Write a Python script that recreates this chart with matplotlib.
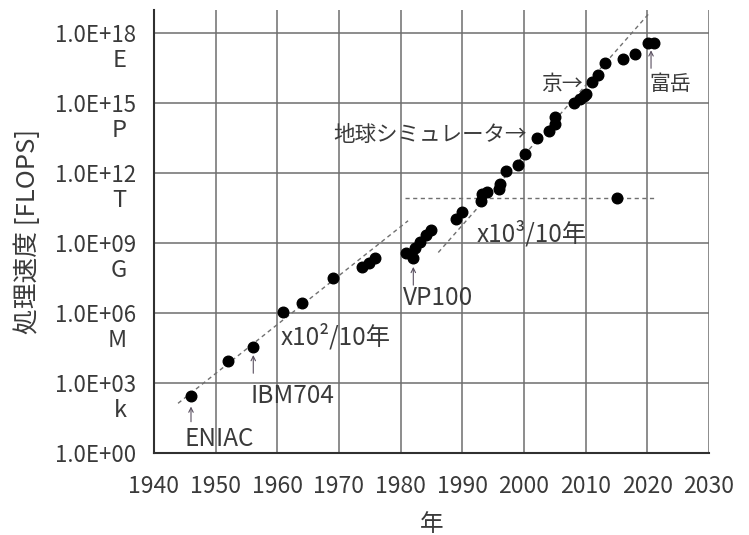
import matplotlib
matplotlib.use("Agg")
import matplotlib.pyplot as plt
import numpy as np

plt.rcParams['font.family'] = ['Noto Sans CJK JP', 'DejaVu Sans']

# データ (年, FLOPS)
years = [1946, 1952, 1956, 1961, 1964, 1969, 1973.8, 1974.8, 1975.8,
         1980.9, 1982.05, 1982.4, 1983.1, 1984.1, 1985.0,
         1989.0, 1990.0, 1993.0, 1993.2, 1994.0, 1996.0, 1996.1, 1997.1,
         1999.0, 2000.1, 2002.05, 2004.1, 2005.1, 2005.0, 2008.1, 2009.1,
         2009.7, 2010.1, 2011.0, 2012.05, 2013.1, 2016.1, 2018.0, 2020.05,
         2021.1, 2015.0]
flops = [2.9e2, 9.1e3, 3.6e4, 1.1e6, 2.8e6, 3.2e7, 9.1e7, 1.35e8, 2.2e8,
         3.9e8, 2.2e8, 5.9e8, 1.15e9, 2.2e9, 3.6e9,
         1.1e10, 2.1e10, 6.3e10, 1.3e11, 1.6e11, 2.2e11, 3.6e11, 1.26e12,
         2.2e12, 6.5e12, 3.4e13, 6.5e13, 1.26e14, 2.6e14, 9.8e14, 1.6e15,
         2.0e15, 2.5e15, 8.3e15, 1.7e16, 5.5e16, 8.1e16, 1.35e17, 3.9e17,
         3.9e17, 8.7e10]

# 傾向線
trend1_x = [1943.9, 1981.2]
trend1_y = [10**2.13, 10**9.96]
trend2_x = [1986.1, 2020.2]
trend2_y = [10**8.6, 10**18.83]
flat_x = [1980.7, 2021.0]
flat_y = [10**10.92, 10**10.92]

xticks = list(range(1940, 2031, 10))
yexp = [0, 3, 6, 9, 12, 15, 18]
ylabels = ['1.0E+%02d' % e for e in yexp]
prefixes = ['', 'k', 'M', 'G', 'T', 'P', 'E']

fig = plt.figure(figsize=(7.49, 5.35), dpi=100)
ax = fig.add_axes([0.2056, 0.1533, 0.741, 0.828])

ax.plot(trend1_x, trend1_y, '--', color='#707070', lw=1.0, dashes=(3, 2.5))
ax.plot(trend2_x, trend2_y, '--', color='#707070', lw=1.0, dashes=(3, 2.5))
ax.plot(flat_x, flat_y, '--', color='#707070', lw=1.0, dashes=(3, 2.5))
ax.scatter(years, flops, s=58, color='black', zorder=3)

ax.set_yscale('log')
ax.set_xlim(1940, 2030)
ax.set_ylim(1, 1e19)
ax.set_xticks(xticks)
ax.set_yticks([10.0**e for e in yexp])
ax.set_yticklabels(ylabels)
ax.minorticks_off()
ax.tick_params(length=0, colors='#3a3a3a')
ax.tick_params(axis='y', labelsize=16, pad=13)
ax.tick_params(axis='x', labelsize=16.5, pad=15.5)
ax.grid(True, color='#6e6e6e', lw=1.1)
for s in ['top', 'right']:
    ax.spines[s].set_visible(False)
for s in ['left', 'bottom']:
    ax.spines[s].set_color('#303030')
    ax.spines[s].set_linewidth(1.5)

# 接頭辞
for e, p in zip(yexp, prefixes):
    if p:
        ax.text(-0.049, 10**(e - 1.16), p, transform=ax.get_yaxis_transform(),
                ha='right', va='center', fontsize=17, color='#3a3a3a')

ax.set_xlabel('年', fontsize=17, color='#3a3a3a', labelpad=11)
ax.set_ylabel('処理速度 [FLOPS]', fontsize=18.5, color='#3a3a3a', labelpad=10)

tc = '#3a3a3a'
ac = '#5a5060'
aprops = dict(arrowstyle='->', color=ac, lw=0.8, mutation_scale=8,
              shrinkA=0, shrinkB=0)

# 注記
ax.annotate('', xy=(1946, 10**1.99), xytext=(1946, 10**1.34), arrowprops=aprops)
ax.text(1945.0, 10**0.6, 'ENIAC', fontsize=17.5, color=tc, ha='left', va='center')
ax.annotate('', xy=(1956.1, 10**4.2), xytext=(1956.1, 10**3.42), arrowprops=aprops)
ax.text(1955.6, 10**2.44, 'IBM704', fontsize=17.5, color=tc, ha='left', va='center')
ax.text(1960.5, 10**4.97, 'x10²/10年', fontsize=17.5, color=tc, ha='left', va='center')
ax.annotate('', xy=(1982.05, 10**7.98), xytext=(1982.05, 10**7.2), arrowprops=aprops)
ax.text(1980.4, 10**6.66, 'VP100', fontsize=17.5, color=tc, ha='left', va='center')
ax.text(1992.3, 10**9.39, 'x10³/10年', fontsize=17.5, color=tc, ha='left', va='center')
ax.text(2000.5, 10**13.63, '地球シミュレータ→', fontsize=15.5, color=tc, ha='right', va='center')
ax.text(2009.6, 10**15.84, '京→', fontsize=15, color=tc, ha='right', va='center')
ax.annotate('', xy=(2020.6, 10**17.27), xytext=(2020.6, 10**16.5), arrowprops=aprops)
ax.text(2020.4, 10**15.82, '富岳', fontsize=15, color=tc, ha='left', va='center')

fig.savefig('out.png', dpi=100)
